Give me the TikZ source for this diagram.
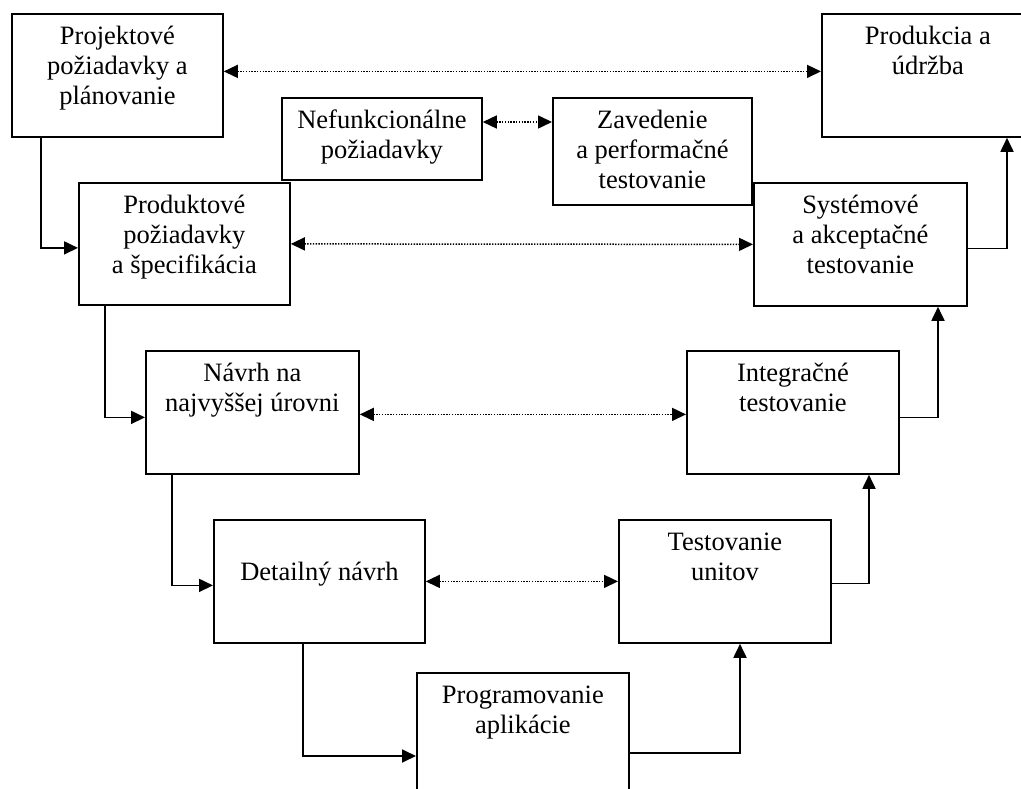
\documentclass[tikz,border=0pt]{standalone}
\usepackage{fontspec}
\setmainfont{Liberation Serif}
\usetikzlibrary{arrows.meta}

\begin{document}
\begin{tikzpicture}[
  x=1pt, y=-1pt,
  stage/.style={draw, line width=1.8pt, fill=white, anchor=north west, inner sep=0pt, minimum width=212pt, minimum height=123pt},
  stagetext/.style={anchor=north, align=center, inner sep=0pt, yshift=-10pt, font=\fontsize{26.5}{30}\selectfont},
  flow/.style={-{Triangle[length=14pt, width=13pt]}, line width=1.8pt},
  sync/.style={{Triangle[length=14pt, width=13pt]}-{Triangle[length=14pt, width=13pt]}, line width=1.5pt, dash pattern=on 1.4pt off 1.4pt}
]
\clip (0,0) rectangle (1021,789);

% left branch of the V
\node[stage, minimum width=211pt] (proj) at (11,13) {};
\node[stage, minimum width=211pt, minimum height=122pt] (prod) at (78,182) {};
\node[stage, minimum width=213pt] (navrh) at (145,350) {};
\node[stage, minimum width=211pt] (detail) at (213,519) {};
\node[stage, minimum height=160pt] (prog) at (416,672) {};

% right branch of the V
\node[stage] (unit) at (618,519) {};
\node[stage] (integ) at (686,350) {};
\node[stage, minimum width=213pt] (sys) at (753,182) {};
\node[stage] (prodk) at (821,13) {};

% middle pair
\node[stage, minimum width=200pt, minimum height=82pt] (nefunk) at (281,97) {};
\node[stage, minimum width=199pt, minimum height=107pt] (zaved) at (552,97) {};

\node[stagetext] (proj-t) at (proj.north) {\strut Projektové\\požiadavky a\\plánovanie};
\node[stagetext] (prod-t) at (prod.north) {\strut Produktové\\požiadavky\\a špecifikácia};
\node[stagetext] (navrh-t) at (navrh.north) {\strut Návrh na\\najvyššej úrovni};
\node[stagetext] (detail-t) at (detail.north) {\strut\\Detailný návrh};
\node[stagetext] (prog-t) at (prog.north) {\strut Programovanie\\aplikácie};
\node[stagetext] (unit-t) at (unit.north) {\strut Testovanie\\unitov};
\node[stagetext] (integ-t) at (integ.north) {\strut Integračné\\testovanie};
\node[stagetext] (sys-t) at (sys.north) {\strut Systémové\\a akceptačné\\testovanie};
\node[stagetext] (prodk-t) at (prodk.north) {\strut Produkcia a\\údržba};
\node[stagetext] (nefunk-t) at (nefunk.north) {\strut Nefunkcionálne\\požiadavky};
\node[stagetext] (zaved-t) at (zaved.north) {\strut Zavedenie\\a performačné\\testovanie};

% flow down and up
\draw[flow] ([xshift=30pt]proj.south west) |- ([yshift=-4pt]prod.west);
\draw[flow] ([xshift=27pt]prod.south west) |- ([yshift=-5pt]navrh.west);
\draw[flow] ([xshift=27pt]navrh.south west) |- ([yshift=-4pt]detail.west);
\draw[flow] ([xshift=90pt]detail.south west) |- ([yshift=-84pt]prog.north west);
\draw[flow] ([yshift=-81pt]prog.north east) -| ([xshift=122pt]unit.south west);
\draw[flow] ([yshift=-2pt]unit.east) -| ([xshift=183pt]integ.south west);
\draw[flow] ([yshift=-5pt]integ.east) -| ([xshift=185pt]sys.south west);
\draw[flow] ([yshift=-4pt]sys.east) -| ([xshift=186pt]prodk.south west);

% verification pairs
\draw[sync] ([yshift=4pt]proj.east) -- ([yshift=4pt]prodk.west);
\draw[sync] ([yshift=-25pt]nefunk.north east) -- ([yshift=-25pt]zaved.north west);
\draw[sync] (prod.east) -- (sys.west);
\draw[sync] ([yshift=-2pt]navrh.east) -- ([yshift=-2pt]integ.west);
\draw[sync] (detail.east) -- (unit.west);
\end{tikzpicture}
\end{document}
